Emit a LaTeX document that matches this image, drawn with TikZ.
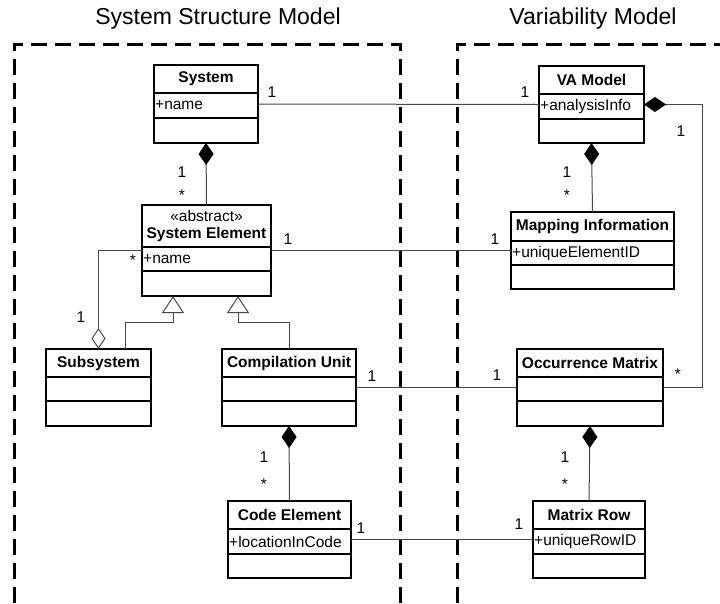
\documentclass[tikz,border=0pt]{standalone}
\usepackage{fontspec}
\setmainfont{Liberation Sans}
\usetikzlibrary{arrows.meta}
\tikzset{
  classbox/.style={draw=black, line width=1.4pt, inner sep=0, outer sep=0},
  divider/.style={draw=black, line width=1.4pt},
  ctitle/.style={font=\fontsize{15.5}{17}\selectfont\bfseries, align=center, inner sep=0},
  cattr/.style={font=\fontsize{15.5}{17}\selectfont, inner sep=0, anchor=west},
  mult/.style={font=\fontsize{15.5}{17}\selectfont, inner sep=0},
  assoc/.style={draw=black!72, line width=1pt},
  comp/.style={assoc, {Diamond[length=22pt,width=15pt,fill=black,color=black]}-},
  aggr/.style={assoc, -{Diamond[open,length=21pt,width=14pt,fill=white]}},
  gen/.style={assoc, -{Triangle[open,length=17pt,width=22pt,fill=white]}},
  modelbox/.style={draw=black, line width=3pt, dash pattern=on 16pt off 8pt},
  header/.style={font=\fontsize{23}{26}\selectfont, anchor=base, inner sep=0},
}
% #1 name, #2 left, #3 top, #4 right, #5 divider1, #6 divider2, #7 bottom, #8 title, #9 attribute
\newcommand\umlclass[9]{%
  \node[classbox, anchor=north west, minimum width={(#4-#2)*1pt}, minimum height={(#7-#3)*1pt}] (#1) at (#2,#3) {};
  \draw[divider] (#2,#5) -- (#4,#5) (#2,#6) -- (#4,#6);
  \node[ctitle] (#1-t) at ({(#2+#4)/2},{(#3+#5)/2}) {#8};
  \node[cattr] (#1-a) at ({#2+1},{(#5+#6)/2}) {#9};
}
\begin{document}
\begin{tikzpicture}[x=1pt,y=-1pt]
\useasboundingbox (0,0) rectangle (720,603);
% model frames
\node[header] (hl) at (218,24) {System Structure Model};
\node[header] (hr) at (593,24) {Variability Model};
\draw[modelbox] (14,603) -- (14,44) -- (400,44) -- (400,603);
\draw[modelbox] (457,603) -- (457,44) -- (720,44);
% classes
\umlclass{sys}{154}{65}{258}{93}{118}{143}{System}{+name}
\umlclass{va}{539}{66}{644}{94}{119}{143}{VA Model}{+analysisInfo}
\umlclass{sysel}{142}{205}{271}{247}{271}{296}{{\mdseries «abstract»}\\System Element}{+name}
\umlclass{map}{511}{212}{674}{241}{265}{289}{Mapping Information}{+uniqueElementID}
\umlclass{sub}{46}{349}{151}{377}{401}{426}{Subsystem}{}
\umlclass{cu}{222}{349}{356}{377}{401}{426}{Compilation Unit}{}
\umlclass{om}{517}{349}{663}{377}{401}{426}{Occurrence Matrix}{}
\umlclass{ce}{228}{501}{351}{529}{554}{578}{Code Element}{+locationInCode}
\umlclass{mr}{533}{501}{645}{529}{554}{578}{Matrix Row}{+uniqueRowID}
% connectors
\draw[assoc] (sys.east) -- (va.west);
\draw[comp] (sys.south) -- (sysel.north);
\draw[assoc] (sysel.east) -- (map.west);
\draw[aggr] (sysel.west) -| (sub.north);
\draw[gen] (sub.north -| 125,0) |- (173,322) -- (sysel.south -| 173,0);
\draw[gen] (cu.north) |- (238,322) -- (sysel.south -| 238,0);
\draw[assoc] (cu.east) -- (om.west);
\draw[comp] (cu.south) -- (ce.north);
\draw[assoc] (ce.east) -- (mr.west);
\draw[comp] (om.south) -- (mr.north);
\draw[comp] (va.south) -- (map.north);
\draw[comp] (va.east) -- ++(58,0) |- (om.east);
% multiplicities
\node[mult] (m1) at (272,92) {1};
\node[mult] (m2) at (525,92) {1};
\node[mult] (m3) at (182,172) {1};
\node[mult, anchor=north] (m4) at (182,190) {*};
\node[mult] (m5) at (288,239) {1};
\node[mult] (m6) at (495,239) {1};
\node[mult, anchor=north] (m7) at (133,255) {*};
\node[mult] (m8) at (81,317) {1};
\node[mult] (m9) at (372,376) {1};
\node[mult] (m10) at (497,375) {1};
\node[mult] (m11) at (264,457) {1};
\node[mult, anchor=north] (m12) at (264,479) {*};
\node[mult] (m13) at (565,457) {1};
\node[mult, anchor=north] (m14) at (565,479) {*};
\node[mult] (m15) at (567,172) {1};
\node[mult, anchor=north] (m16) at (567,190) {*};
\node[mult] (m17) at (681,131) {1};
\node[mult, anchor=north] (m18) at (678,369) {*};
\node[mult] (m19) at (361,528) {1};
\node[mult] (m20) at (519,524) {1};
\end{tikzpicture}
\end{document}
